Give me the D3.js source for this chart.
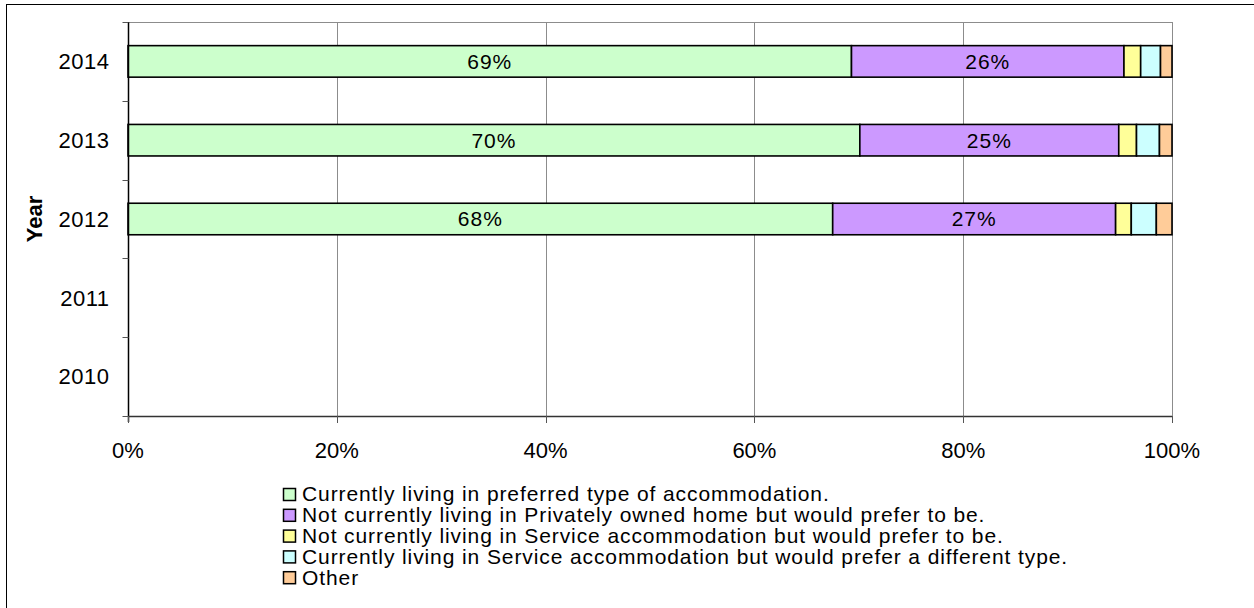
<!DOCTYPE html>
<html>
<head>
<meta charset="utf-8">
<script src="https://cdn.jsdelivr.net/npm/d3@7"></script>
<style>
  html, body { margin: 0; padding: 0; background: #fff; }
  svg { display: block; font-family: Arial, "Liberation Sans", sans-serif; }
</style>
</head>
<body>
<svg id="chart" width="1254" height="608"></svg>
<script>
// Years shown on the category axis (top to bottom: 2014 .. 2010)
const years = ["2010", "2011", "2012", "2013", "2014"];

// Series names, in stacking order
const seriesNames = [
  "Currently living in preferred type of accommodation.",
  "Not currently living in Privately owned home but would prefer to be.",
  "Not currently living in Service accommodation but would prefer to be.",
  "Currently living in Service accommodation but would prefer a different type.",
  "Other"
];
const seriesColors = ["#CCFFCC", "#CC99FF", "#FFFF99", "#CCFFFF", "#FFCC99"];

// Percentages per series (2010 and 2011 have no data)
const preferred   = [null, null, 67.5, 70.1, 69.3];
const privateHome = [null, null, 27.1, 24.8, 26.1];
const serviceAcc  = [null, null, 1.5, 1.7, 1.6];
const differentType = [null, null, 2.4, 2.2, 1.9];
const other       = [null, null, 1.5, 1.2, 1.1];

// Tick labels for the value axis
const xTicks = [0, 20, 40, 60, 80, 100];

const seriesValues = [preferred, privateHome, serviceAcc, differentType, other];
// Segments that carry a value label
const labelledSeries = [0, 1];

const AXIS_FONT = 22;
const SMALL_FONT = 21;
const svg = d3.select("#chart");

// Outer frame
svg.append("rect")
  .attr("x", 6.5).attr("y", 4.5)
  .attr("width", 1260).attr("height", 620)
  .attr("fill", "none").attr("stroke", "#000").attr("stroke-width", 1);

const plot = { left: 128, right: 1172, top: 22, bottom: 416 };

const x = d3.scaleLinear().domain([0, 100]).range([plot.left, plot.right]);
const y = d3.scaleBand().domain(years.slice().reverse())
  .range([plot.top, plot.bottom]).paddingInner(0.6).paddingOuter(0.3);
const yBand = d3.scaleBand().domain(years.slice().reverse())
  .range([plot.top, plot.bottom]);

// Vertical gridlines
svg.append("g").selectAll("line")
  .data(xTicks.slice(1))
  .join("line")
  .attr("x1", d => Math.round(x(d)) + 0.5).attr("x2", d => Math.round(x(d)) + 0.5)
  .attr("y1", plot.top).attr("y2", plot.bottom)
  .attr("stroke", "#8c8c8c").attr("stroke-width", 1);

// Top border of plot area
svg.append("line")
  .attr("x1", plot.left).attr("x2", plot.right)
  .attr("y1", plot.top + 0.5).attr("y2", plot.top + 0.5)
  .attr("stroke", "#8c8c8c");

// Stack the series
const rows = years.map((yr, i) => {
  const row = { year: yr };
  seriesValues.forEach((s, k) => { row["s" + k] = s[i] || 0; });
  return row;
});
const stack = d3.stack().keys(seriesNames.map((_, k) => "s" + k));
const stacked = stack(rows);

const bars = svg.append("g");
stacked.forEach((layer, k) => {
  bars.append("g").selectAll("rect")
    .data(layer.filter(d => d.data["s" + k] > 0))
    .join("rect")
    .attr("x", d => x(d[0]))
    .attr("width", d => x(d[1]) - x(d[0]))
    .attr("y", d => y(d.data.year))
    .attr("height", y.bandwidth())
    .attr("fill", seriesColors[k])
    .attr("stroke", "#000").attr("stroke-width", 1.6);
});

// Value labels on the two large segments
labelledSeries.forEach(k => {
  svg.append("g").selectAll("text")
    .data(stacked[k].filter(d => d.data["s" + k] > 0))
    .join("text")
    .attr("x", d => (x(d[0]) + x(d[1])) / 2)
    .attr("y", d => y(d.data.year) + y.bandwidth() / 2)
    .attr("dy", "0.35em")
    .attr("text-anchor", "middle")
    .attr("font-size", SMALL_FONT)
    .attr("letter-spacing", 1.0)
    .attr("fill", "#000")
    .text(d => Math.round(d.data["s" + k]) + "%");
});

// Category axis
const yAxisG = svg.append("g")
  .attr("transform", `translate(${plot.left + 0.5},0)`);
yAxisG.append("line")
  .attr("y1", plot.top - 0).attr("y2", plot.bottom + 6)
  .attr("stroke", "#000").attr("stroke-width", 1.5);
const yTickPos = d3.range(years.length + 1).map(i => plot.top + i * yBand.step());
yAxisG.selectAll("line.tick")
  .data(yTickPos)
  .join("line").attr("class", "tick")
  .attr("x1", -6).attr("x2", 0)
  .attr("y1", d => Math.round(d) + 0.5).attr("y2", d => Math.round(d) + 0.5)
  .attr("stroke", "#555");
yAxisG.selectAll("text")
  .data(years)
  .join("text")
  .attr("x", -19)
  .attr("y", d => yBand(d) + yBand.bandwidth() / 2)
  .attr("dy", "0.35em")
  .attr("text-anchor", "end")
  .attr("font-size", AXIS_FONT)
  .attr("letter-spacing", 0.5)
  .text(d => d);

// Axis title
svg.append("text")
  .attr("transform", `translate(34,${(plot.top + plot.bottom) / 2}) rotate(-90)`)
  .attr("text-anchor", "middle")
  .attr("dy", "0.35em")
  .attr("font-size", AXIS_FONT)
  .attr("font-weight", "bold")
  .text("Year");

// Value axis
const xAxisG = svg.append("g");
xAxisG.append("line")
  .attr("x1", plot.left).attr("x2", plot.right)
  .attr("y1", plot.bottom + 0.5).attr("y2", plot.bottom + 0.5)
  .attr("stroke", "#333").attr("stroke-width", 1.5);
xAxisG.selectAll("line.tick")
  .data(xTicks)
  .join("line").attr("class", "tick")
  .attr("x1", d => Math.round(x(d)) + 0.5).attr("x2", d => Math.round(x(d)) + 0.5)
  .attr("y1", plot.bottom).attr("y2", plot.bottom + 7)
  .attr("stroke", "#555");
xAxisG.selectAll("text")
  .data(xTicks)
  .join("text")
  .attr("x", d => x(d))
  .attr("y", plot.bottom + 34)
  .attr("dy", "0.35em")
  .attr("text-anchor", "middle")
  .attr("font-size", AXIS_FONT)
  .text(d => d + "%");

// Legend
const legend = svg.append("g").attr("transform", "translate(283,494)");
const legendItems = legend.selectAll("g")
  .data(seriesNames)
  .join("g")
  .attr("transform", (d, i) => `translate(0,${i * 20.8})`);
legendItems.append("rect")
  .attr("x", 0.5).attr("y", -5.5)
  .attr("width", 12).attr("height", 12)
  .attr("fill", (d, i) => seriesColors[i])
  .attr("stroke", "#000").attr("stroke-width", 1.5);
legendItems.append("text")
  .attr("x", 19).attr("y", 0)
  .attr("dy", "0.35em")
  .attr("font-size", SMALL_FONT)
  .attr("letter-spacing", 0.9)
  .text(d => d);
</script>
</body>
</html>
